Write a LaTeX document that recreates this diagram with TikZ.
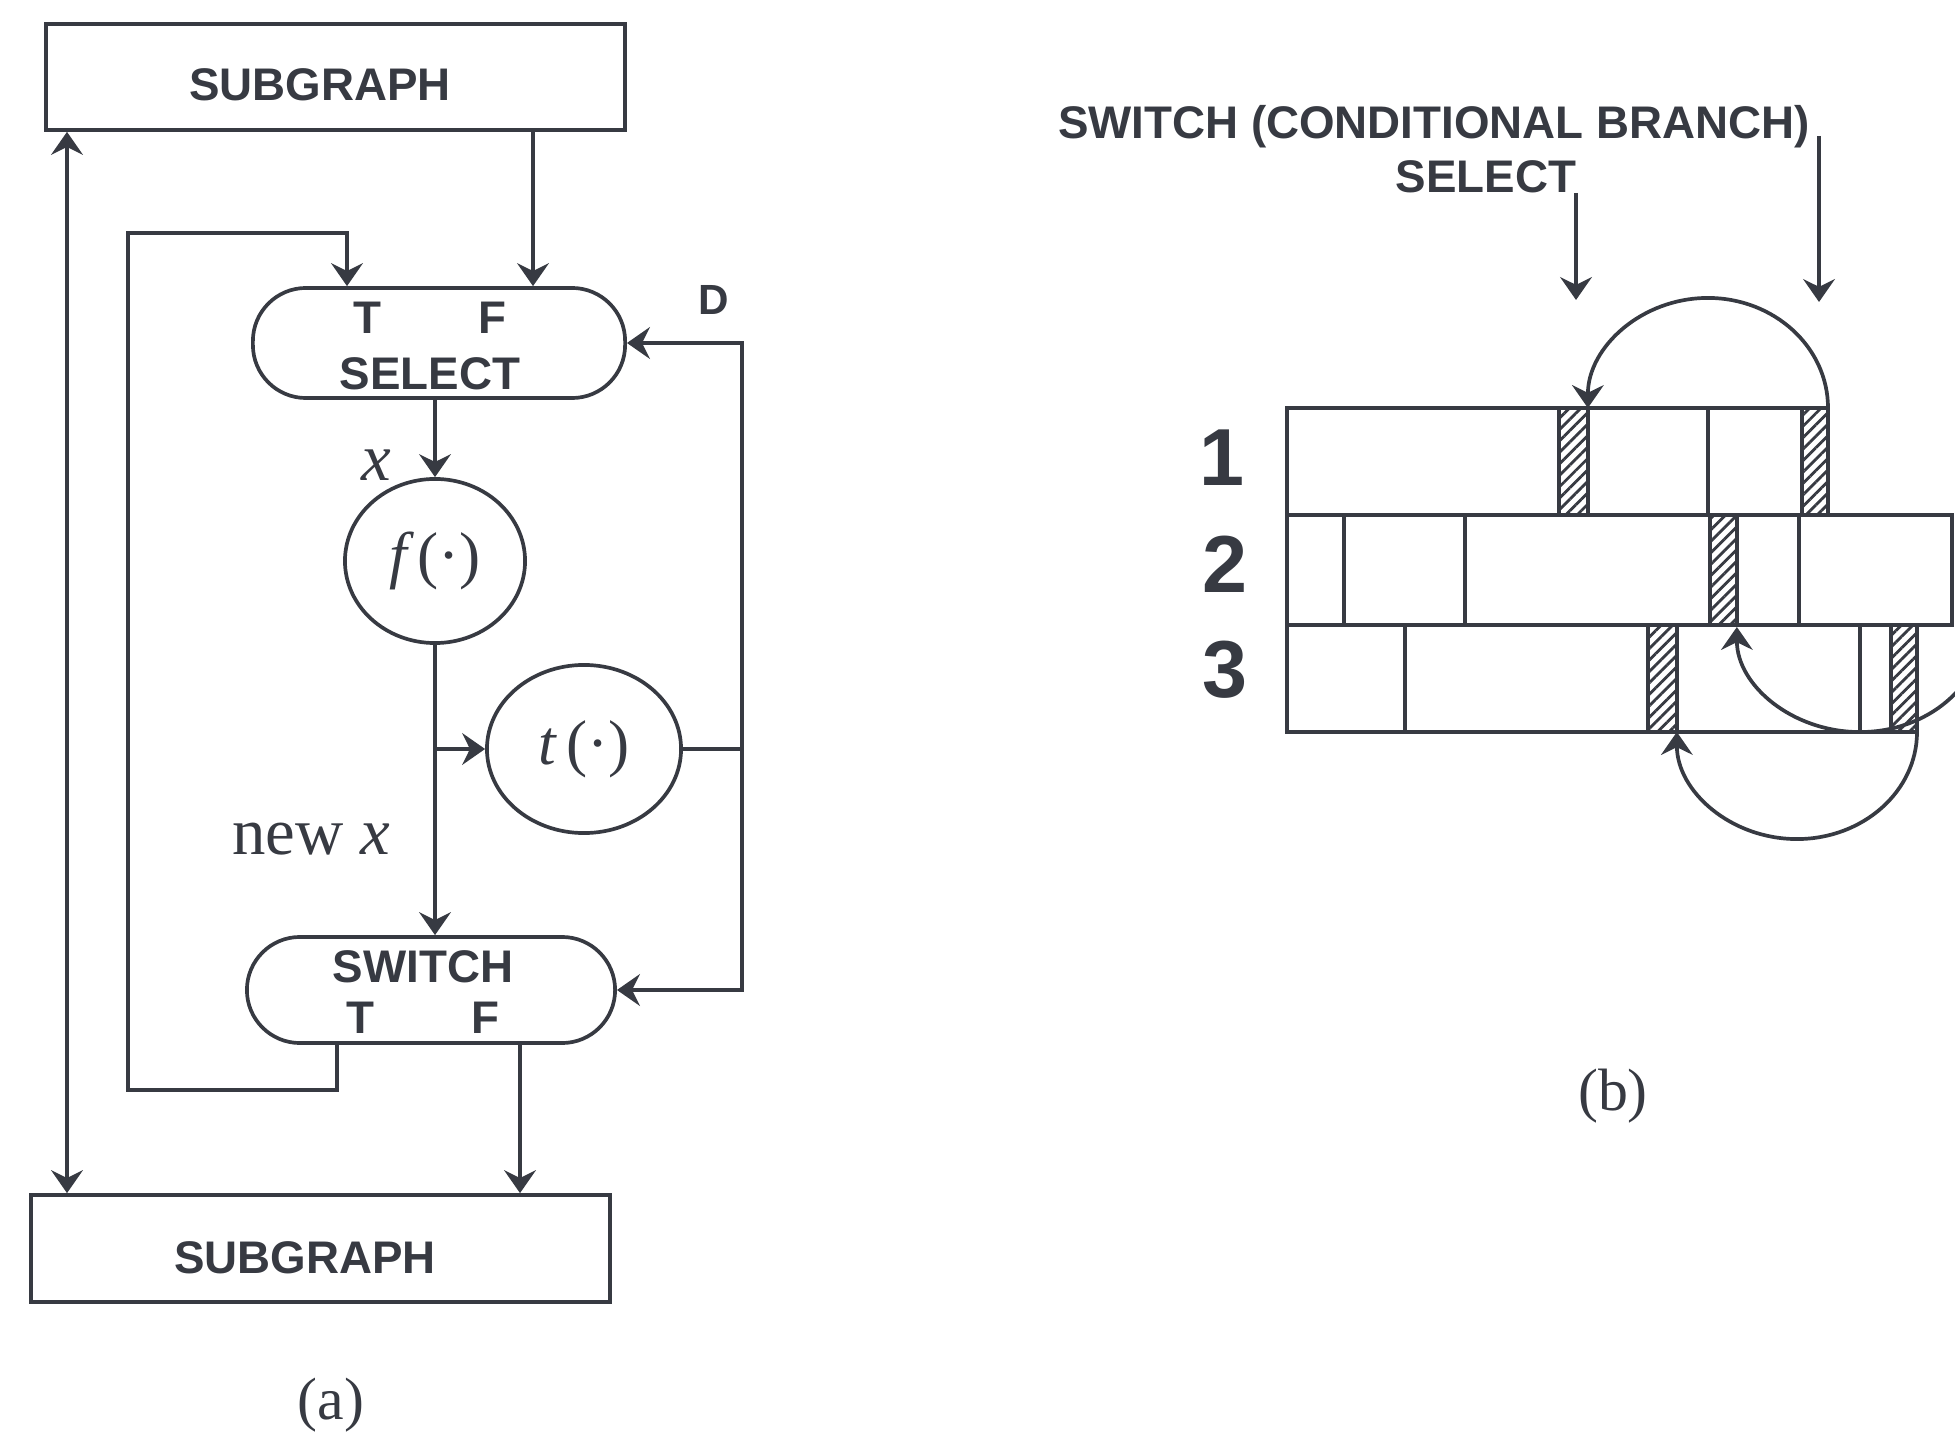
\documentclass[tikz,border=0pt]{standalone}
\usepackage{fontspec}
\setmainfont{Liberation Serif}
\newfontfamily\hv{Liberation Sans}
\usetikzlibrary{arrows.meta,shapes.geometric,patterns.meta}
\definecolor{ink}{RGB}{55,58,66}
\begin{document}
\begin{tikzpicture}[x=0.01cm,y=-0.01cm,
  ln/.style={draw=ink,line width=1.05pt},
  tip/.tip={Stealth[length=6.5pt,width=9pt,inset=2.2pt]},
  arr/.style={ln,-tip},
  darr/.style={ln,tip-tip},
  box/.style={ln,rectangle,inner sep=0pt},
  pill/.style={ln,rectangle,rounded corners=0.53cm,inner sep=0pt},
  circ/.style={ln,ellipse,inner sep=0pt,text=ink,font=\fontsize{18}{20}\selectfont},
  sflab/.style={font=\hv\bfseries\fontsize{13}{15}\selectfont,text=ink,inner sep=0pt},
  dlab/.style={font=\hv\bfseries\fontsize{12}{14}\selectfont,text=ink,inner sep=0pt},
  numlab/.style={font=\hv\bfseries\fontsize{23}{25}\selectfont,text=ink,inner sep=0pt},
  rmlab/.style={font=\fontsize{19}{21}\selectfont,text=ink,inner sep=0pt},
  caplab/.style={font=\fontsize{17}{19}\selectfont,text=ink,inner sep=0pt},
  hatch/.style={draw=ink,line width=1.4pt,pattern={Lines[angle=45,distance=2.3pt,line width=0.8pt]},pattern color=ink}
]
\useasboundingbox (0,0) rectangle (1955,1440);
\clip (0,0) rectangle (1955,1440);

% ---------------- panel (a) ----------------
\node[box,minimum width=5.79cm,minimum height=1.06cm] (topsub) at (335.5,77) {};
\node[sflab] (topsubt) at (320,85) {SUBGRAPH};
\node[box,minimum width=5.79cm,minimum height=1.07cm] (botsub) at (320.5,1248.5) {};
\node[sflab] (botsubt) at (305,1258) {SUBGRAPH};

\node[pill,minimum width=3.72cm,minimum height=1.10cm] (select) at (439,343) {};
\node[sflab] (selT) at (367,318) {T};
\node[sflab] (selF) at (492,318) {F};
\node[sflab] (selN) at (430,374) {SELECT};

\node[pill,minimum width=3.68cm,minimum height=1.06cm] (switch) at (431,990) {};
\node[sflab] (swN) at (423,967) {SWITCH};
\node[sflab] (swT) at (360,1018) {T};
\node[sflab] (swF) at (485,1018) {F};

\node[circ,minimum width=1.80cm,minimum height=1.64cm] (fnode) at (435,561) {{\itshape f}\,(·)};
\node[circ,minimum width=1.94cm,minimum height=1.68cm] (tnode) at (584,749) {{\itshape t}\,(·)};

\node[rmlab] (xlab) at (376,465) {\itshape x};
\node[rmlab] (newx) at (311,839) {new {\itshape x}};
\node[dlab] (dlab) at (714,300) {D};
\node[caplab] (capa) at (331,1405) {(a)};

\coordinate (lx) at (67,700);
\coordinate (fx) at (533,200);
\coordinate (tin) at (347,233);
\coordinate (lpb) at (128,1090);
\coordinate (tout) at (337,1100);
\coordinate (fo) at (520,1100);
\coordinate (dj) at (742,749);
\coordinate (br) at (435,749);

\draw[darr] (lx |- topsub.south) -- (lx |- botsub.north);
\draw[arr] (fx |- topsub.south) -- (fx |- select.north);
\draw[arr] (tout |- switch.south) |- (lpb) |- (tin) -- (tin |- select.north);
\draw[arr] (fnode.north |- select.south) -- (fnode.north);
\draw[arr] (fnode.south) -- (fnode.south |- switch.north);
\draw[arr] (br) -- (tnode.west);
\draw[ln] (tnode.east) -- (dj);
\draw[arr] (dj) |- (select.east);
\draw[arr] (dj) |- (switch.east);
\draw[arr] (fo |- switch.south) -- (fo |- botsub.north);

% ---------------- panel (b) ----------------
\node[sflab] (swlab) at (1434,127) {SWITCH (CONDITIONAL BRANCH)};
\node[sflab] (sellab) at (1486,177) {SELECT};
\node[numlab] (n1) at (1222,458) {1};
\node[numlab] (n2) at (1225,564) {2};
\node[numlab] (n3) at (1225,670) {3};
\node[caplab] (capb) at (1613,1096) {(b)};

% row 1
\foreach \a/\b in {1287/1559,1588/1708,1708/1802}
  \draw[ln] (\a,408) rectangle (\b,515);
\foreach \a/\b in {1559/1588,1802/1828}
  \draw[hatch] (\a,408) rectangle (\b,515);
% row 2
\foreach \a/\b in {1287/1344,1344/1465,1465/1710,1737/1799,1799/1952}
  \draw[ln] (\a,515) rectangle (\b,625);
\foreach \a/\b in {1710/1737}
  \draw[hatch] (\a,515) rectangle (\b,625);
% row 3
\foreach \a/\b in {1287/1405,1405/1648,1677/1860,1860/1891}
  \draw[ln] (\a,625) rectangle (\b,732);
\foreach \a/\b in {1648/1677,1891/1917}
  \draw[hatch] (\a,625) rectangle (\b,732);

\coordinate (selA) at (1576,193);
\coordinate (selB) at (1576,300);
\coordinate (swA) at (1819,136);
\coordinate (swB) at (1819,302);
\draw[arr] (selA) -- (selB);
\draw[arr] (swA) -- (swB);

\coordinate (a1s) at (1828,408);
\coordinate (a2s) at (1983,627);
\coordinate (a3s) at (1917,732);
\draw[arr] (a1s) arc[start angle=0,end angle=180,x radius=1.20cm,y radius=1.10cm];
\draw[arr] (a2s) arc[start angle=0,end angle=-180,x radius=1.23cm,y radius=1.05cm];
\draw[arr] (a3s) arc[start angle=0,end angle=-180,x radius=1.20cm,y radius=1.07cm];
\end{tikzpicture}
\end{document}
